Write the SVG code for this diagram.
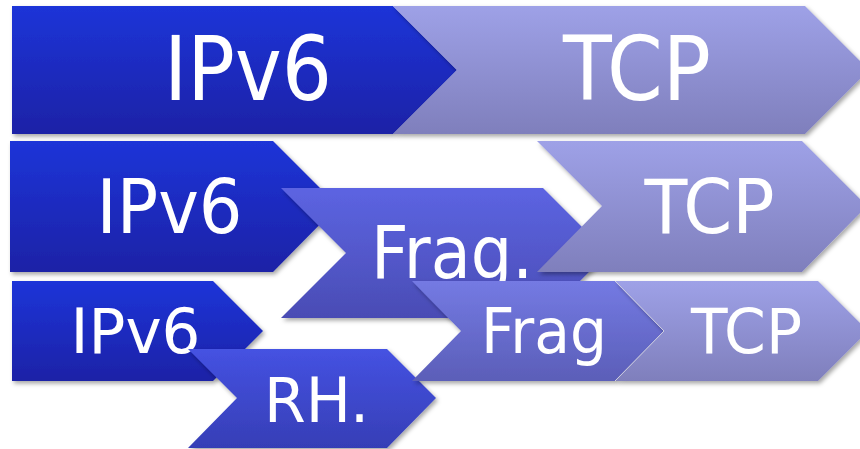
<svg xmlns="http://www.w3.org/2000/svg" width="860" height="449" viewBox="0 0 860 449">
  <defs>
    <linearGradient id="gIp" x1="0" y1="0" x2="0" y2="1">
      <stop offset="0" stop-color="#1f34d8"/>
      <stop offset="1" stop-color="#1a22a6"/>
    </linearGradient>
    <linearGradient id="gTcp" x1="0" y1="0" x2="0" y2="1">
      <stop offset="0" stop-color="#9ea1e7"/>
      <stop offset="1" stop-color="#7f7fbc"/>
    </linearGradient>
    <linearGradient id="gFragA" x1="0" y1="0" x2="0" y2="1">
      <stop offset="0" stop-color="#5c64e2"/>
      <stop offset="1" stop-color="#4a4cb4"/>
    </linearGradient>
    <linearGradient id="gRh" x1="0" y1="0" x2="0" y2="1">
      <stop offset="0" stop-color="#4552e2"/>
      <stop offset="1" stop-color="#363eb6"/>
    </linearGradient>
    <linearGradient id="gFragB" x1="0" y1="0" x2="0" y2="1">
      <stop offset="0" stop-color="#747ae3"/>
      <stop offset="1" stop-color="#5b5eb8"/>
    </linearGradient>
    <filter id="sh" x="-5%" y="-10%" width="115%" height="130%">
      <feDropShadow dx="2" dy="2.5" stdDeviation="2" flood-color="#000" flood-opacity="0.35"/>
    </filter>
  </defs>
  <style>
    .shape { filter: url(#sh); }
    .ip { fill: url(#gIp); }
    .tcp { fill: url(#gTcp); }
    .fragA { fill: url(#gFragA); }
    .rh { fill: url(#gRh); }
    .fragB { fill: url(#gFragB); }
    text { font-family: "DejaVu Sans", "Liberation Sans", sans-serif; fill: #ffffff; text-anchor: middle; }
  </style>

  <g id="row1-ipv6">
    <polygon class="shape ip" points="12,6 393,6 457,70 393,134 12,134"/>
    <text x="248" y="100" font-size="89" textLength="168" lengthAdjust="spacingAndGlyphs">IPv6</text>
  </g>
  <g id="row1-tcp">
    <polygon class="shape tcp" points="393,6 805,6 869,70 805,134 393,134 457,70"/>
    <text x="637" y="100" font-size="89" textLength="148" lengthAdjust="spacingAndGlyphs">TCP</text>
  </g>

  <g id="row2-ipv6">
    <polygon class="shape ip" points="10,141 273,141 338,206 273,272 10,272"/>
    <text x="169.5" y="233" font-size="75" textLength="146" lengthAdjust="spacingAndGlyphs">IPv6</text>
  </g>
  <g id="row2-frag">
    <polygon class="shape fragA" points="281,188 543,188 608,253 543,318 281,318 346,253"/>
    <text x="452" y="278" font-size="73" textLength="162" lengthAdjust="spacingAndGlyphs">Frag.</text>
  </g>
  <g id="row2-tcp">
    <polygon class="shape tcp" points="537,141 802,141 867,206 802,272 537,272 602,206"/>
    <text x="709.5" y="233" font-size="75" textLength="130" lengthAdjust="spacingAndGlyphs">TCP</text>
  </g>

  <g id="row3-ipv6">
    <polygon class="shape ip" points="12,281 213,281 263,331 213,381 12,381"/>
    <text x="135.5" y="353" font-size="63" textLength="130" lengthAdjust="spacingAndGlyphs">IPv6</text>
  </g>
  <g id="row3-rh">
    <polygon class="shape rh" points="188,349 387,349 436,398 387,448 188,448 237,398"/>
    <text x="316.5" y="422" font-size="63" textLength="105" lengthAdjust="spacingAndGlyphs">RH.</text>
  </g>
  <g id="row3-frag">
    <polygon class="shape fragB" points="412,281 615,281 664,331 615,381 412,381 461,331"/>
    <text x="544" y="353" font-size="63" textLength="126" lengthAdjust="spacingAndGlyphs">Frag</text>
  </g>
  <g id="row3-tcp">
    <polygon class="shape tcp" points="615,281 818,281 868,331 818,381 615,381 664,331"/>
    <polyline points="615,281 664,331 615,381" fill="none" stroke="#cfcfe0" stroke-width="1"/>
    <text x="746.5" y="353" font-size="63" textLength="111" lengthAdjust="spacingAndGlyphs">TCP</text>
  </g>

  <g id="connectors"></g>
</svg>
